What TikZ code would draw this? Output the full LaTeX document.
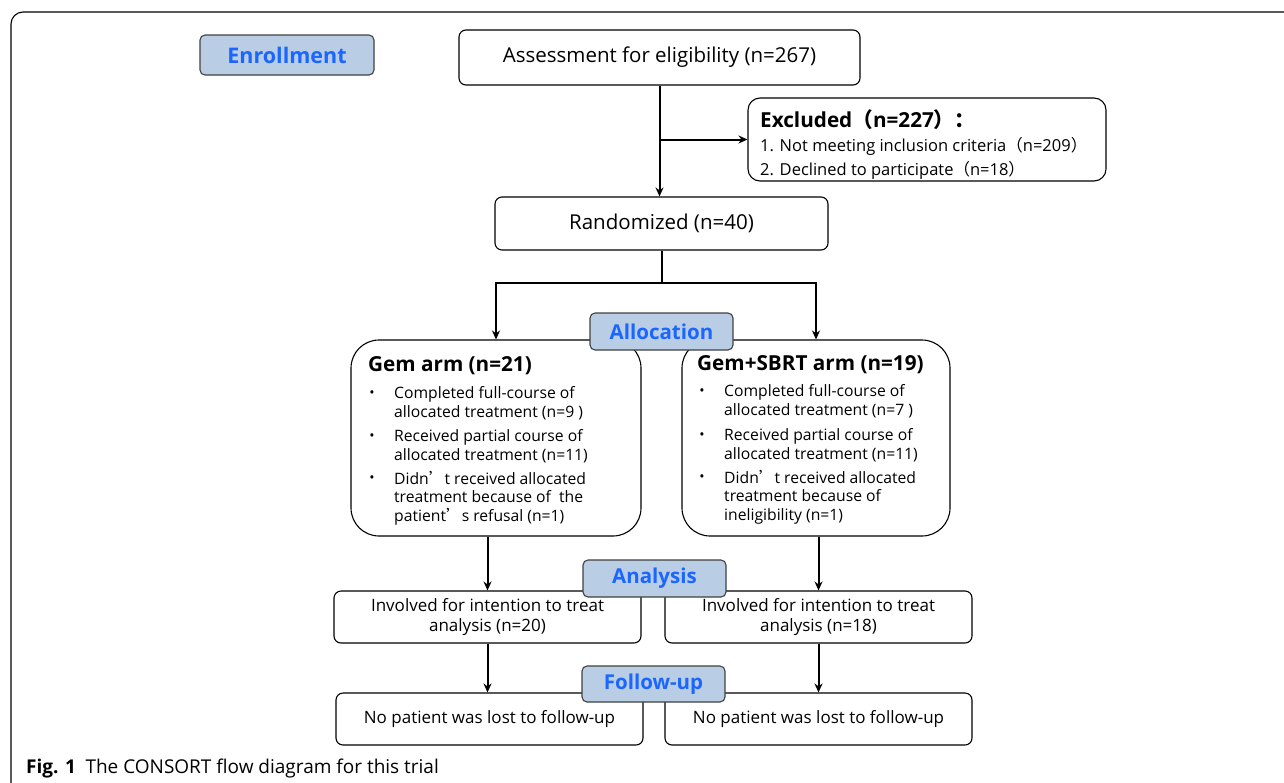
\documentclass[tikz,border=0pt]{standalone}
\usepackage{fontspec}
\setmainfont{Open Sans}
\newfontfamily\cjk{Noto Sans CJK SC}
\usetikzlibrary{arrows.meta}
\definecolor{lblfill}{HTML}{B9CDE5}
\definecolor{lbltext}{HTML}{1A66FF}
\definecolor{lbldraw}{HTML}{404040}
\newcommand{\fw}[1]{{\cjk #1}}
\begin{document}
\begin{tikzpicture}[x=1pt,y=-1pt,
  box/.style={draw, line width=1.1pt, rounded corners=7pt, inner sep=0pt},
  armbox/.style={draw, line width=1.1pt, rounded corners=28pt, inner sep=0pt, minimum width=#1, minimum height=196pt},
  lbl/.style={draw=lbldraw, fill=lblfill, line width=1.1pt, rounded corners=5pt, text=lbltext,
    font=\bfseries\fontsize{20.5}{24}\selectfont, inner sep=0pt, minimum width=143pt},
  main/.style={font=\fontsize{20.5}{24}\selectfont, align=center},
  inv/.style={font=\fontsize{17}{20.5}\selectfont, align=center},
  small/.style={font=\fontsize{15.7}{18.7}\selectfont, align=left, anchor=west, inner sep=0pt},
  excl/.style={font=\fontsize{16.5}{19}\selectfont, align=left, anchor=west, inner sep=0pt},
  dot/.style={font=\fontsize{14}{18}\selectfont, inner sep=0pt},
  title/.style={font=\bfseries\fontsize{20.7}{24}\selectfont, anchor=west, inner sep=0pt},
  arr/.style={line width=2pt, -{Stealth[length=9pt,width=8pt]}},
  ln/.style={line width=2pt}]
\useasboundingbox (0,0) rectangle (1284,782);
\draw[line width=1.1pt, rounded corners=12pt] (11,820) -- (11,12) -- (1320,12);

% boxes
\node[box, main, minimum width=401pt, minimum height=55pt] (assess) at (659.5,57.5) {Assessment for eligibility (n=267)};
\node[box, rounded corners=12pt, minimum width=358pt, minimum height=83pt] (excl) at (927,139.5) {};
\node[title] (exclT) at (760,120) {Excluded\fw{（}n=227\fw{）：}};
\node[excl] (exclA) at (760,146) {1. Not meeting inclusion criteria\fw{（}n=209\fw{）}};
\node[excl] (exclB) at (760,170) {2. Declined to participate\fw{（}n=18\fw{）}};
\node[box, main, minimum width=333pt, minimum height=53pt] (rand) at (661.5,223.5) {Randomized (n=40)};

\node[armbox=290pt] (gem) at (496,438) {};
\node[armbox=268pt] (sbrt) at (816,438) {};

\node[title] (gemT) at (368,366) {Gem arm (n=21)};
\node[dot] (gd1) at (372,394) {•};
\node[small] (g1) at (394,403) {Completed full-course of\\allocated treatment (n=9 )};
\node[dot] (gd2) at (372,437) {•};
\node[small] (g2) at (394,446) {Received partial course of\\allocated treatment (n=11)};
\node[dot] (gd3) at (372,479) {•};
\node[small] (g3) at (394,498) {Didn\fw{’}t received allocated\\treatment because of~ the\\patient\fw{’}s refusal (n=1)};

\node[title] (sbrtT) at (697,365) {Gem+SBRT arm (n=19)};
\node[dot] (sd1) at (702,392) {•};
\node[small] (s1) at (724,401) {Completed full-course of\\allocated treatment (n=7 )};
\node[dot] (sd2) at (702,436) {•};
\node[small] (s2) at (724,445) {Received partial course of\\allocated treatment (n=11)};
\node[dot] (sd3) at (702,478) {•};
\node[small] (s3) at (724,497) {Didn\fw{’}t received allocated\\treatment because of\\ineligibility (n=1)};

\node[box, inv, minimum width=307pt, minimum height=52pt] (inv1) at (487.5,617) {Involved for intention to treat\\analysis (n=20)};
\node[box, inv, minimum width=307pt, minimum height=52pt] (inv2) at (818.5,617) {Involved for intention to treat\\analysis (n=18)};
\node[box, inv, minimum width=307pt, minimum height=52pt] (nl1) at (489.5,719) {No patient was lost to follow-up};
\node[box, inv, minimum width=307pt, minimum height=52pt] (nl2) at (818.5,719) {No patient was lost to follow-up};

% labels
\node[lbl, minimum width=174pt, minimum height=40pt, font=\bfseries\fontsize{21.5}{24}\selectfont] (enroll) at (287,55) {Enrollment};
\node[lbl, minimum height=37pt] (alloc) at (661.5,331.5) {Allocation};
\node[lbl, minimum height=37pt] (anal) at (654.5,578.5) {Analysis};
\node[lbl, minimum height=36pt] (fu) at (653.5,684) {Follow-up};

% connectors
\draw[arr] (assess.south) -- (assess.south |- rand.north);
\draw[arr] (assess.south |- excl.west) -- (excl.west);
\coordinate (split) at (661.5,283);
\draw[ln] (rand.south) -- (split);
\draw[arr] (split) -| (gem.north);
\draw[arr] (split) -| (sbrt.north);
\draw[arr] (gem.south -| inv1.north) -- (inv1.north);
\draw[arr] (sbrt.south -| inv2.north) -- (inv2.north);
\draw[arr] (inv1.south) -- (inv1.south |- nl1.north);
\draw[arr] (inv2.south) -- (inv2.south |- nl2.north);

% caption
\node[anchor=west, inner sep=0pt, font=\fontsize{19}{22}\selectfont] (cap) at (26,768) {\textbf{Fig. 1}\hspace{0.5em}The CONSORT flow diagram for this trial};
\end{tikzpicture}
\end{document}
